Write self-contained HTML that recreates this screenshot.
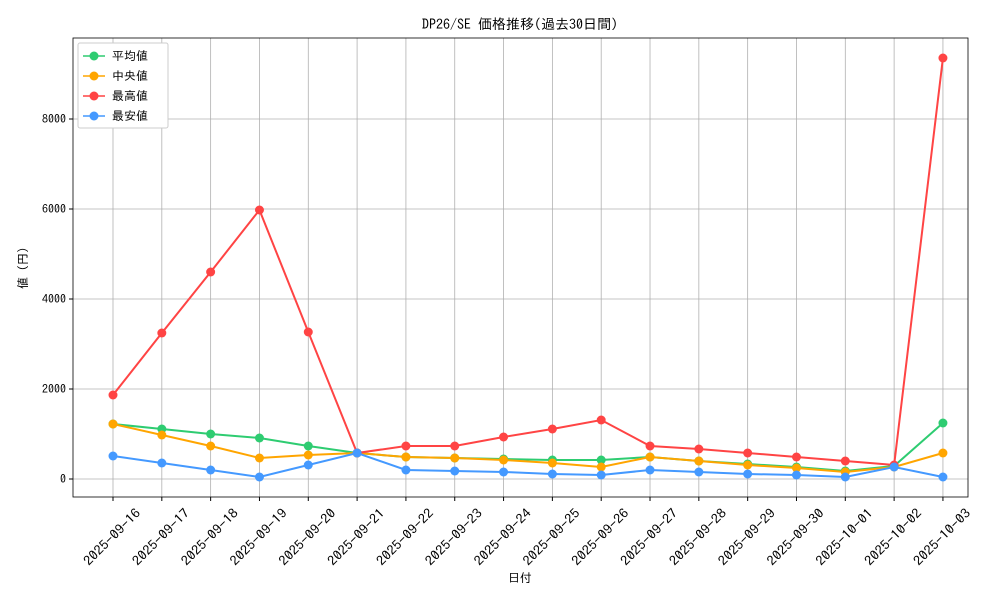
<!DOCTYPE html>
<html><head><meta charset="utf-8"><style>body{margin:0;background:#fff}svg{display:block}text{font-family:"IPAGothic","Noto Sans CJK JP",monospace;fill:#000}</style></head>
<body>
<svg width="1000" height="600" viewBox="0 0 1000 600">
<rect width="1000" height="600" fill="#fff"/>
<g stroke="#b0b0b0" stroke-width="0.8" id="grid"></g>
<rect x="73" y="38" width="895" height="459" fill="none" stroke="#000" stroke-width="0.8"/>
<g id="yt" font-size="12"></g>
<g id="xt" font-size="13"></g>
<g id="series"></g>
<text x="520" y="29" font-size="14" text-anchor="middle">DP26/SE 価格推移(過去30日間)</text>
<text x="520" y="582" font-size="12" text-anchor="middle">日付</text>
<text transform="translate(27,268) rotate(-90)" font-size="12" text-anchor="middle">値 (円)</text>
<g>
<rect x="78" y="43" width="90" height="85" rx="2" fill="#fff" stroke="#ccc"/>
<line x1="83" y1="56" x2="105" y2="56" stroke="#2ecc71" stroke-width="1.5"/><circle cx="94" cy="56" r="4.5" fill="#2ecc71"/><text x="112" y="60" font-size="12">平均値</text>
<line x1="83" y1="76" x2="105" y2="76" stroke="#ffa500" stroke-width="1.5"/><circle cx="94" cy="76" r="4.5" fill="#ffa500"/><text x="112" y="80" font-size="12">中央値</text>
<line x1="83" y1="96" x2="105" y2="96" stroke="#ff4444" stroke-width="1.5"/><circle cx="94" cy="96" r="4.5" fill="#ff4444"/><text x="112" y="100" font-size="12">最高値</text>
<line x1="83" y1="116" x2="105" y2="116" stroke="#4499ff" stroke-width="1.5"/><circle cx="94" cy="116" r="4.5" fill="#4499ff"/><text x="112" y="120" font-size="12">最安値</text>
</g>
</svg>
<script>
const NS="http://www.w3.org/2000/svg";
function el(p,t,a,txt){const e=document.createElementNS(NS,t);for(const k in a)e.setAttribute(k,a[k]);if(txt)e.textContent=txt;p.appendChild(e);return e;}
const g=document.getElementById('grid'),yt=document.getElementById('yt'),xt=document.getElementById('xt'),s=document.getElementById('series');
const X=i=>113+i*48.82;
[0,2000,4000,6000,8000].forEach(v=>{const y=479-v*0.045;el(g,'line',{x1:73,x2:968,y1:y,y2:y});el(yt,'line',{x1:69,x2:73,y1:y,y2:y,stroke:'#000'});el(yt,'text',{x:66,y:y+4,'text-anchor':'end'},String(v));});
const d=['09-16','09-17','09-18','09-19','09-20','09-21','09-22','09-23','09-24','09-25','09-26','09-27','09-28','09-29','09-30','10-01','10-02','10-03'];
d.forEach((t,i)=>{const x=X(i);el(g,'line',{x1:x,x2:x,y1:38,y2:497});el(xt,'line',{x1:x,x2:x,y1:497,y2:501,stroke:'#000'});el(xt,'text',{transform:`translate(${x-1},537) rotate(-45)`,'text-anchor':'middle',dy:'0.35em',textLength:74,lengthAdjust:'spacingAndGlyphs'},'2025-'+t);});
const S=[
['#2ecc71',[424,429,434,438,446,453,457,458,459,460,460,457,461,464,467,471,466,423]],
['#ffa500',[424,435,446,458,455,453,457,458,460,463,467,457,461,465,468,472,467,453]],
['#ff4444',[395,333,272,210,332,453,446,446,437,429,420,446,449,453,457,461,465,58]],
['#4499ff',[456,463,470,477,465,453,470,471,472,474,475,470,472,474,475,477,467,477]]];
S.forEach(([c,ys])=>{el(s,'polyline',{points:ys.map((y,i)=>X(i)+','+y).join(' '),fill:'none',stroke:c,'stroke-width':2});ys.forEach((y,i)=>el(s,'circle',{cx:X(i),cy:y,r:4.5,fill:c}));});
</script>
</body></html>
